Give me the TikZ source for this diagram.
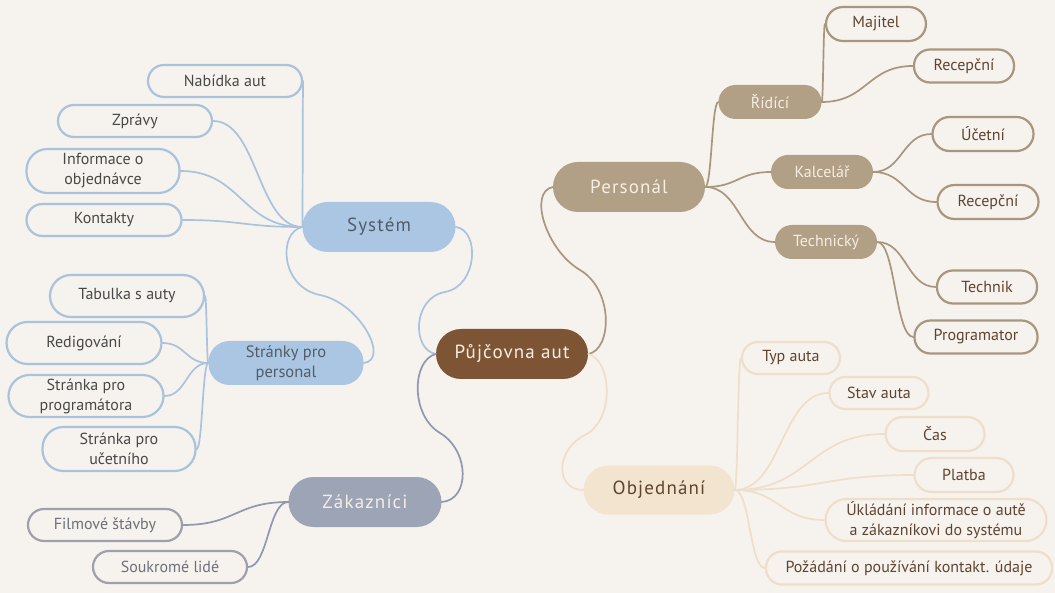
\documentclass[tikz,border=0pt]{standalone}
\usepackage{fontspec}
\setmainfont{PT Sans}
\newfontfamily\bigfont[LetterSpace=6]{PT Sans}
\usetikzlibrary{calc}
\definecolor{bg}{HTML}{F6F2EE}
\definecolor{cbrown}{HTML}{7D5535}
\definecolor{cblue}{HTML}{AAC6E3}
\definecolor{bline}{HTML}{A9C3DD}
\definecolor{cgray}{HTML}{9CA4B6}
\definecolor{gline}{HTML}{9FA0AB}
\definecolor{gcon}{HTML}{8F98AC}
\definecolor{ctan}{HTML}{B19F86}
\definecolor{tline}{HTML}{A8977F}
\definecolor{cbeige}{HTML}{F3E4CF}
\definecolor{eline}{HTML}{EEDFCB}
\definecolor{dtext}{HTML}{484848}
\definecolor{btext}{HTML}{525C68}
\definecolor{gtext}{HTML}{6E6F7A}
\definecolor{ttext}{HTML}{5F4530}
\definecolor{ltext}{HTML}{F6EEE3}
\newcommand\sconn[3]{\draw[#1] let \p1=(#2), \p2=(#3) in (\p1) .. controls ({0.5*\x1+0.5*\x2},\y1) and ({0.5*\x1+0.5*\x2},\y2) .. (\p2);}
\begin{document}
\begin{tikzpicture}[x=1pt,y=-1pt,line cap=round,line join=round,
  mainn/.style={inner sep=0pt,minimum height=50,rounded corners=25,font=\bigfont\fontsize{19}{22}\selectfont},
  midt/.style={inner sep=0pt,minimum height=34,rounded corners=17,fill=ctan,text=ltext,font=\fontsize{16}{19}\selectfont},
  leaf/.style={inner sep=0pt,minimum height=32,rounded corners=16,line width=2.2pt,fill=bg,align=center,font=\fontsize{16}{20}\selectfont},
  leaftwo/.style={leaf,minimum height=44,rounded corners=21},
  lb/.style={leaf,draw=bline,text=dtext},
  lbt/.style={leaftwo,draw=bline,text=dtext},
  lg/.style={leaf,draw=gline,text=gtext},
  lt/.style={leaf,draw=tline,text=ttext},
  le/.style={leaf,draw=eline,text=ttext},
  let2/.style={leaftwo,draw=eline,text=ttext},
  cb/.style={draw=bline,line width=1.7pt},
  cg/.style={draw=gcon,line width=1.7pt},
  ct/.style={draw=tline,line width=1.7pt},
  ce/.style={draw=eline,line width=1.7pt}]
\fill[bg] (0,0) rectangle (1055,593);
\useasboundingbox (0,0) rectangle (1055,593);
% main nodes
\node[mainn,fill=cbrown,text=ltext,minimum width=152] (cen) at (512,354) {Půjčovna aut};
\node[mainn,fill=cblue,text=btext,minimum width=153] (sys) at (379,227) {Systém};
\node[inner sep=0pt,minimum width=155,minimum height=44,rounded corners=21,fill=cblue,text=btext,align=center,font=\fontsize{16.5}{20}\selectfont] (stp) at (286,363) {Stránky pro\\personal};
\node[mainn,fill=cgray,text=ltext,minimum width=153] (zak) at (365,502) {Zákazníci};
\node[mainn,fill=ctan,text=ltext,minimum width=152] (per) at (629,187) {Personál};
\node[mainn,fill=cbeige,text=ttext,minimum width=151,minimum height=49] (obj) at (659,490) {Objednání};
% tan mid nodes
\node[midt,minimum width=103] (rid) at (770,102) {Řídící};
\node[midt,minimum width=102] (kal) at (822,172) {Kalcelář};
\node[midt,minimum width=102] (tec) at (826,242) {Technický};
% blue leaves
\node[lb,minimum width=154] (nab) at (225,81) {Nabídka aut};
\node[lb,minimum width=154] (zpr) at (135,121) {Zprávy};
\node[lbt,minimum width=153] (inf) at (103,171) {Informace o\\objednávce};
\node[lb,minimum width=155] (kon) at (104,220) {Kontakty};
\node[lbt,minimum width=154,minimum height=42] (tab) at (127,296) {Tabulka s auty};
\node[lbt,minimum width=155,minimum height=42] (red) at (84,343) {Redigování};
\node[lbt,minimum width=155,minimum height=42] (spg) at (86,396) {Stránka pro\\programátora};
\node[lbt,minimum width=153] (suc) at (119,449) {Stránka pro\\učetního};
% gray leaves
\node[lg,minimum width=154] (fil) at (105,525) {Filmové štávby};
\node[lg,minimum width=154] (sou) at (170,567) {Soukromé lidé};
% tan leaves
\node[lt,minimum width=100,minimum height=34,rounded corners=17] (maj) at (876,24) {Majitel};
\node[lt,minimum width=100,minimum height=33] (rec1) at (964,66) {Recepční};
\node[lt,minimum width=101,minimum height=34,rounded corners=17] (uce) at (983,134) {Účetní};
\node[lt,minimum width=101,minimum height=34,rounded corners=17] (rec2) at (988,202) {Recepční};
\node[lt,minimum width=100,minimum height=33] (tek) at (987,287) {Technik};
\node[lt,minimum width=123,minimum height=33] (pro) at (976,337) {Programator};
% beige leaves
\node[le,minimum width=98] (typ) at (791,358) {Typ auta};
\node[le,minimum width=99] (sta) at (879,393) {Stav auta};
\node[le,minimum width=99,minimum height=34,rounded corners=17] (cas) at (935,434) {Čas};
\node[le,minimum width=99,minimum height=34,rounded corners=17] (pla) at (964,475) {Platba};
\node[let2,minimum width=221,minimum height=42] (ukl) at (936,520) {Úkládání informace o autě\\a zákazníkovi do systému};
\node[le,minimum width=286,minimum height=33] (poz) at (909,568) {Požádání o používání kontakt. údaje};
% central connectors
\draw[cb] (cen.west) .. controls (412,350) and (412,298) .. (445,292) .. controls (478,286) and (480,230) .. (sys.east);
\draw[cg] (cen.west) .. controls (412,360) and (410,415) .. (440,433) .. controls (470,451) and (470,500) .. (zak.east);
\draw[ct] (cen.east) .. controls (612,350) and (614,290) .. (580,270) .. controls (546,250) and (528,192) .. (per.west);
\draw[ce] (cen.east) .. controls (612,360) and (615,420) .. (585,435) .. controls (555,450) and (555,490) .. (obj.west);
\draw[cb] (sys.west) .. controls (278,232) and (280,287) .. (320,295) .. controls (360,303) and (390,360) .. (stp.east);
% system leaves
\sconn{cb}{sys.west}{nab.east}
\sconn{cb}{sys.west}{zpr.east}
\sconn{cb}{sys.west}{inf.east}
\sconn{cb}{sys.west}{kon.east}
\sconn{cb}{stp.west}{tab.east}
\sconn{cb}{stp.west}{red.east}
\sconn{cb}{stp.west}{spg.east}
\sconn{cb}{stp.west}{suc.east}
\sconn{cg}{zak.west}{fil.east}
\sconn{cg}{zak.west}{sou.east}
% personal
\sconn{ct}{per.east}{rid.west}
\sconn{ct}{per.east}{kal.west}
\sconn{ct}{per.east}{tec.west}
\sconn{ct}{rid.east}{maj.west}
\sconn{ct}{rid.east}{rec1.west}
\sconn{ct}{kal.east}{uce.west}
\sconn{ct}{kal.east}{rec2.west}
\sconn{ct}{tec.east}{tek.west}
\sconn{ct}{tec.east}{pro.west}
% objednani
\sconn{ce}{obj.east}{typ.west}
\sconn{ce}{obj.east}{sta.west}
\sconn{ce}{obj.east}{cas.west}
\sconn{ce}{obj.east}{pla.west}
\sconn{ce}{obj.east}{ukl.west}
\sconn{ce}{obj.east}{poz.west}
\end{tikzpicture}
\end{document}
